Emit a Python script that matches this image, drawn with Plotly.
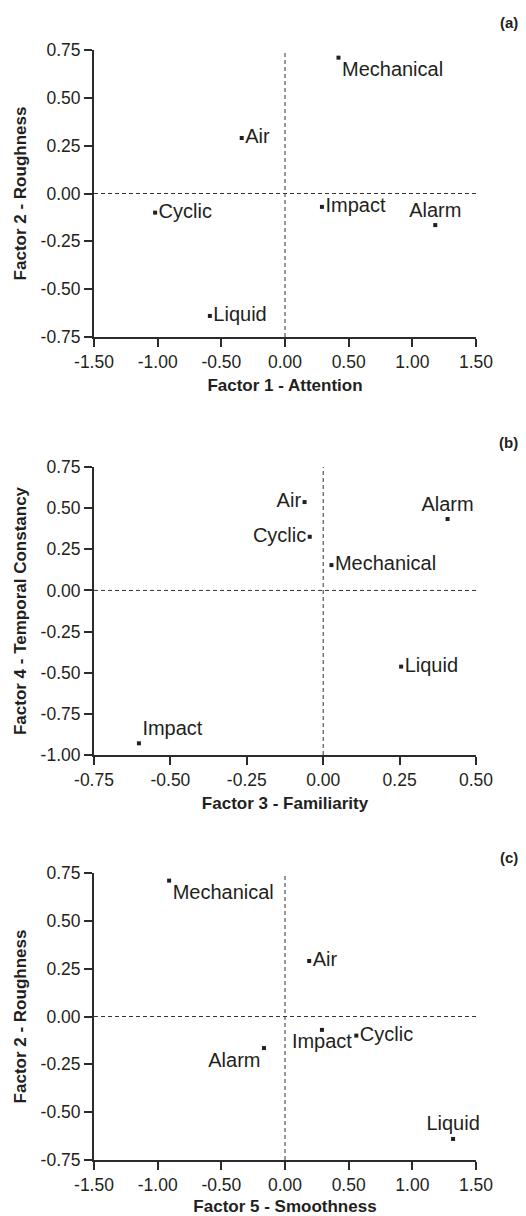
import plotly.graph_objects as go

# ---------------- data ----------------
categories = ["Mechanical", "Air", "Cyclic", "Impact", "Alarm", "Liquid"]

factor1_attention = [0.42, -0.34, -1.02, 0.29, 1.18, -0.59]
factor2_roughness = [0.71, 0.29, -0.10, -0.07, -0.165, -0.64]
factor3_familiarity = [0.027, -0.061, -0.044, -0.603, 0.407, 0.255]
factor4_temporal = [0.154, 0.537, 0.326, -0.929, 0.434, -0.463]
factor5_smoothness = [-0.91, 0.19, 0.56, 0.29, -0.165, 1.32]

ticks_15 = [-1.5, -1.0, -0.5, 0.0, 0.5, 1.0, 1.5]
ticks_15_text = ["-1.50", "-1.00", "-0.50", "0.00", "0.50", "1.00", "1.50"]
ticks_075 = [-0.75, -0.5, -0.25, 0.0, 0.25, 0.5, 0.75]
ticks_075_text = ["-0.75", "-0.50", "-0.25", "0.00", "0.25", "0.50", "0.75"]
ticks_f3 = [-0.75, -0.5, -0.25, 0.0, 0.25, 0.5]
ticks_f3_text = ["-0.75", "-0.50", "-0.25", "0.00", "0.25", "0.50"]
ticks_f4 = [-1.0, -0.75, -0.5, -0.25, 0.0, 0.25, 0.5, 0.75]
ticks_f4_text = ["-1.00", "-0.75", "-0.50", "-0.25", "0.00", "0.25", "0.50", "0.75"]

# label placement (style)
pos_a = ["bottom right", "middle right", "middle right", "middle right", "top center", "middle right"]
pos_b = ["middle right", "middle left", "middle left", "top right", "top center", "middle right"]
pos_c = ["bottom right", "middle right", "middle right", "bottom center", "bottom left", "top center"]

TXT = "#231f20"
AX = "#2b2b2b"
FONT = "Liberation Sans, Arial, sans-serif"
W, H = 526, 1216

def px_dom_y(top, bottom):
    return [1 - bottom / H, 1 - top / H]

xdom = [94 / W, 476 / W]
ydoms = [px_dom_y(50, 337), px_dom_y(467, 755), px_dom_y(873, 1160)]

panels = [
    dict(x=factor1_attention, y=factor2_roughness, pos=pos_a,
         xr=[-1.5, 1.5], yr=[-0.75, 0.75],
         xt=(ticks_15, ticks_15_text), yt=(ticks_075, ticks_075_text),
         xtitle="Factor 1 - Attention", ytitle="Factor 2 - Roughness", tag="(a)", tagy=23),
    dict(x=factor3_familiarity, y=factor4_temporal, pos=pos_b,
         xr=[-0.75, 0.5], yr=[-1.0, 0.75],
         xt=(ticks_f3, ticks_f3_text), yt=(ticks_f4, ticks_f4_text),
         xtitle="Factor 3 - Familiarity", ytitle="Factor 4 - Temporal Constancy", tag="(b)", tagy=443),
    dict(x=factor5_smoothness, y=factor2_roughness, pos=pos_c,
         xr=[-1.5, 1.5], yr=[-0.75, 0.75],
         xt=(ticks_15, ticks_15_text), yt=(ticks_075, ticks_075_text),
         xtitle="Factor 5 - Smoothness", ytitle="Factor 2 - Roughness", tag="(c)", tagy=857),
]

fig = go.Figure()
layout = dict(
    width=W, height=H,
    margin=dict(l=0, r=0, t=0, b=0, autoexpand=False),
    paper_bgcolor="white", plot_bgcolor="white",
    showlegend=False,
    font=dict(family=FONT, color=TXT, size=17),
)
shapes = []
annotations = []

for i, p in enumerate(panels):
    n = "" if i == 0 else str(i + 1)
    xa, ya = "x" + n, "y" + n
    fig.add_trace(go.Scatter(
        x=p["x"], y=p["y"], text=categories, mode="markers+text",
        textposition=p["pos"], xaxis=xa, yaxis=ya,
        marker=dict(symbol="square", size=4, color=TXT),
        textfont=dict(family=FONT, size=20, color=TXT),
        cliponaxis=False, hoverinfo="skip",
    ))
    common = dict(
        showgrid=False, zeroline=False, showline=True, linecolor=AX, linewidth=2,
        ticks="outside", ticklen=8, tickwidth=2, tickcolor=AX,
        tickfont=dict(family=FONT, size=17.5, color=TXT),
        mirror=False, fixedrange=True, automargin=False,
    )
    layout["xaxis" + n] = dict(
        common, domain=xdom, range=p["xr"], anchor=ya,
        tickmode="array", tickvals=p["xt"][0], ticktext=p["xt"][1],
        title=dict(text="<b>" + p["xtitle"] + "</b>", font=dict(family=FONT, size=17, color=TXT), standoff=8),
    )
    layout["yaxis" + n] = dict(
        common, domain=ydoms[i], range=p["yr"], anchor=xa,
        tickmode="array", tickvals=p["yt"][0], ticktext=p["yt"][1],
        title=dict(text="<b>" + p["ytitle"] + "</b>", font=dict(family=FONT, size=17, color=TXT), standoff=10),
    )
    dash = dict(color="#333333", width=1, dash="4px,3px")
    shapes.append(dict(type="line", xref=xa, yref=ya, x0=0, x1=0, y0=p["yr"][0], y1=p["yr"][1], line=dash, layer="below"))
    shapes.append(dict(type="line", xref=xa, yref=ya, x0=p["xr"][0], x1=p["xr"][1], y0=0, y1=0, line=dash, layer="below"))
    annotations.append(dict(
        text="<b>" + p["tag"] + "</b>", xref="paper", yref="paper",
        x=520 / W, y=1 - p["tagy"] / H, xanchor="right", yanchor="middle",
        showarrow=False, font=dict(family=FONT, size=15, color=TXT),
    ))

layout["shapes"] = shapes
layout["annotations"] = annotations
fig.update_layout(**layout)
fig.write_html(
    "out.html",
    config={"displayModeBar": False},
    post_script="document.body.style.margin='0';document.body.style.overflow='hidden';",
)
